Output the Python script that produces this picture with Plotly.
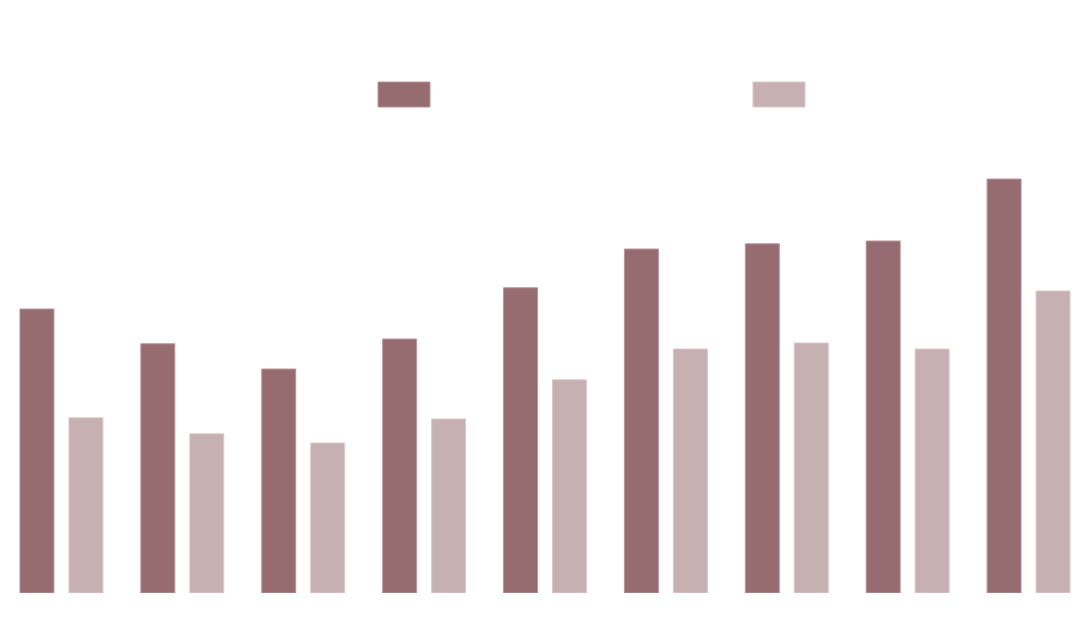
import plotly.graph_objects as go

categories = ["G1", "G2", "G3", "G4", "G5", "G6", "G7", "G8", "G9"]
series_a = [71.0, 62.3, 56.0, 63.5, 76.3, 86.0, 87.3, 88.0, 103.5]
series_b = [43.8, 39.8, 37.5, 43.5, 53.3, 61.0, 62.5, 61.0, 75.5]
series_names = ["Series A", "Series B"]
colors = ["#966c70", "#c7b0b1"]
line_colors = ["#b8959a", "#dcc8c9"]

W, H = 1092, 644
ML, MR, MT, MB = 1, 3, 150, 51
pw = W - ML - MR
ph = H - MT - MB

fig = go.Figure()
for name, vals, c, lc in zip(series_names, [series_a, series_b], colors, line_colors):
    fig.add_trace(go.Bar(x=categories, y=vals, name=name,
                         marker=dict(color=c, line=dict(color=lc, width=1)),
                         showlegend=False))

# Legend swatches (no visible text in reference)
def px_to_paper_x(px):
    return (px - ML) / pw

def py_to_paper_y(py):
    return (H - MB - py) / ph

for (x0, x1), c, lc in zip([(378, 430), (753, 805)], colors, line_colors):
    fig.add_shape(type="rect", xref="paper", yref="paper",
                  x0=px_to_paper_x(x0), x1=px_to_paper_x(x1),
                  y0=py_to_paper_y(107), y1=py_to_paper_y(82),
                  fillcolor=c, line=dict(color=lc, width=1))

fig.update_layout(
    width=W, height=H,
    margin=dict(l=ML, r=MR, t=MT, b=MB),
    paper_bgcolor="white", plot_bgcolor="white",
    barmode="group", bargap=0.19, bargroupgap=0.306,
    xaxis=dict(showticklabels=False, showgrid=False, zeroline=False, showline=False, ticks=""),
    yaxis=dict(range=[0, ph / 4.0], showticklabels=False, showgrid=False,
               zeroline=False, showline=False, ticks=""),
)

fig.write_html("out.html", config={"displayModeBar": False},
               post_script="document.body.style.margin='0';document.body.style.overflow='hidden';")
